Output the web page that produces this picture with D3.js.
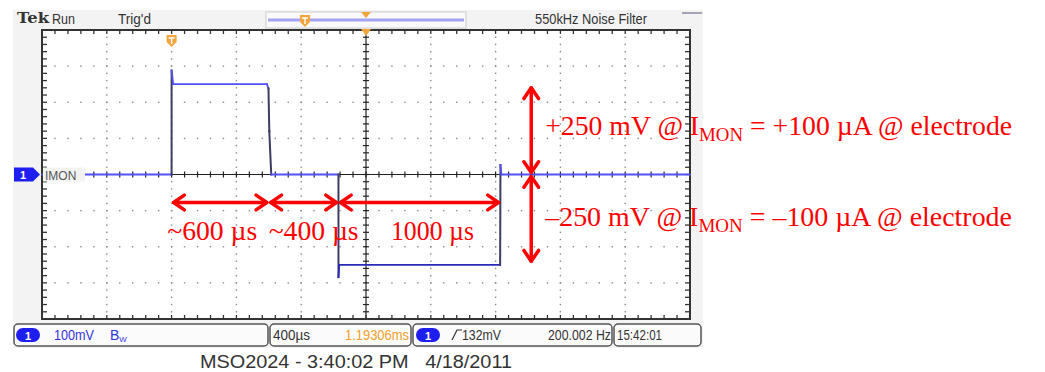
<!DOCTYPE html>
<html>
<head>
<meta charset="utf-8">
<script src="https://cdn.jsdelivr.net/npm/d3@7"></script>
<style>
body { margin: 0; background: #fff; }
svg { display: block; }
</style>
</head>
<body>
<div id="chart"></div>
<script>
// scope: 400 us/div horizontally, 100 mV/div vertically, 10 x 8 divisions
const timeRange = [-2000, 2000];
const mvRange = [-400, 400];

// IMON trace (time in us from screen centre, level in mV)
const traceUs = [-2000, -1200, -1200, -1190, -612, -602, -597, -585, -170, -170, -165, 828, 830, 836, 2000];
const traceMv = [0, 0, 288, 250, 250, 238, 120, 0, 0, -284, -250, -250, 26, 0, 0];

// red annotations
const spanStart = [-1200, -600, -170];
const spanEnd = [-600, -170, 830];
const spanLabel = ["~600 µs", "~400 µs", "1000 µs"];
const levelMv = [250, -250];
const levelHead = ["+250 mV @ I", "\u2013250 mV @ I"];
const levelSub = ["MON", "MON"];
const levelTail = [" = +100 µA @ electrode", " = \u2013100 µA @ electrode"];
const levelArrowUs = 1020;

// screen texts
const topTexts = ["Run", "Trig'd", "550kHz  Noise Filter"];
const chLabel = "IMON";
const statusTexts = ["100mV", "400µs", "1.19306ms", "132mV", "200.002 Hz", "15:42:01"];
const caption = "MSO2024 - 3:40:02 PM   4/18/2011";

const width = 1045, height = 372;

const svg = d3.select("#chart").append("svg")
	.attr("width", width)
	.attr("height", height);

const x = d3.scaleLinear().domain(timeRange).range([42, 690]);
const y = d3.scaleLinear().domain(mvRange).range([319, 30]);

const majorT = d3.range(timeRange[0], timeRange[1] + 1, 400);
const minorT = d3.range(timeRange[0], timeRange[1] + 1, 80);
const majorV = d3.range(mvRange[0], mvRange[1] + 1, 100);
const minorV = d3.range(mvRange[0], mvRange[1] + 1, 20);

const sans = "'Liberation Sans Narrow', 'Liberation Sans', Arial, sans-serif";
const serif = "'Liberation Serif', 'Times New Roman', serif";

// scope panel background
svg.append("rect")
	.attr("x", 13).attr("y", 10)
	.attr("width", 690).attr("height", 338)
	.attr("fill", "#f3f3f3");

// graticule
svg.append("rect")
	.attr("x", x(timeRange[0])).attr("y", y(mvRange[1]))
	.attr("width", x(timeRange[1]) - x(timeRange[0]))
	.attr("height", y(mvRange[0]) - y(mvRange[1]))
	.attr("fill", "#fff");

const grid = svg.append("g").attr("fill", "#8a8a8a");
majorT.filter(t => t != 0 && t != timeRange[0] && t != timeRange[1]).forEach(t => {
	grid.selectAll(null)
		.data(minorV)
		.join("rect")
			.attr("x", x(t) - 0.7).attr("y", d => y(d) - 0.7)
			.attr("width", 1.4).attr("height", 1.4);
});
majorV.filter(v => v != 0 && v != mvRange[0] && v != mvRange[1]).forEach(v => {
	grid.selectAll(null)
		.data(minorT)
		.join("rect")
			.attr("x", d => x(d) - 0.7).attr("y", y(v) - 0.7)
			.attr("width", 1.4).attr("height", 1.4);
});

// centre axes with minor ticks
const axes = svg.append("g").attr("stroke", "#222").attr("stroke-width", 1.2);
axes.append("line")
	.attr("x1", x(0)).attr("x2", x(0))
	.attr("y1", y(mvRange[1])).attr("y2", y(mvRange[0]));
axes.append("line")
	.attr("x1", x(timeRange[0])).attr("x2", x(timeRange[1]))
	.attr("y1", y(0)).attr("y2", y(0));
axes.selectAll(".vt")
	.data(minorV)
	.join("line")
		.attr("x1", x(0) - 3).attr("x2", x(0) + 3)
		.attr("y1", d => y(d)).attr("y2", d => y(d));
axes.selectAll(".ht")
	.data(minorT)
	.join("line")
		.attr("x1", d => x(d)).attr("x2", d => x(d))
		.attr("y1", y(0) - 3).attr("y2", y(0) + 3);

// border ticks
const border = svg.append("g").attr("stroke", "#333").attr("stroke-width", 1.3);
minorT.forEach(t => {
	border.append("line").attr("x1", x(t)).attr("x2", x(t)).attr("y1", y(mvRange[1])).attr("y2", y(mvRange[1]) + 4);
	border.append("line").attr("x1", x(t)).attr("x2", x(t)).attr("y1", y(mvRange[0])).attr("y2", y(mvRange[0]) - 4);
});
minorV.forEach(v => {
	border.append("line").attr("x1", x(timeRange[0])).attr("x2", x(timeRange[0]) + 5).attr("y1", y(v)).attr("y2", y(v));
	border.append("line").attr("x1", x(timeRange[1])).attr("x2", x(timeRange[1]) - 5).attr("y1", y(v)).attr("y2", y(v));
});
svg.append("rect")
	.attr("x", x(timeRange[0])).attr("y", y(mvRange[1]))
	.attr("width", x(timeRange[1]) - x(timeRange[0]))
	.attr("height", y(mvRange[0]) - y(mvRange[1]))
	.attr("fill", "none")
	.attr("stroke", "#333")
	.attr("stroke-width", 2);

// trace: flat parts blue, steep edges darker
const trace = d3.zip(traceUs, traceMv);
const segs = d3.pairs(trace);
svg.append("g")
	.attr("fill", "none")
	.attr("stroke-linecap", "square")
	.selectAll("line")
	.data(segs)
	.join("line")
		.attr("x1", d => x(d[0][0])).attr("y1", d => y(d[0][1]))
		.attr("x2", d => x(d[1][0])).attr("y2", d => y(d[1][1]))
		.attr("stroke", d => Math.abs(d[1][1] - d[0][1]) > 60 ? "#3c3c64" : (d[0][1] < 0 ? "#2a2ab8" : "#5050f4"))
		.attr("stroke-width", d => Math.abs(d[1][1] - d[0][1]) > 60 ? 2 : 1.8);

// channel label box on the left
svg.append("rect")
	.attr("x", 43).attr("y", y(0) - 7)
	.attr("width", 42).attr("height", 14)
	.attr("fill", "#f3f3f3");
svg.append("text")
	.attr("x", 45).attr("y", y(0) + 5)
	.attr("font-family", sans).attr("font-size", 12)
	.attr("fill", "#555")
	.text(chLabel);
svg.append("path")
	.attr("d", `M14,${y(0) - 7}H33L40,${y(0)}L33,${y(0) + 7}H14Z`)
	.attr("fill", "#1e1ef0");
svg.append("text")
	.attr("x", 20).attr("y", y(0) + 4.5)
	.attr("font-family", sans).attr("font-size", 11).attr("font-weight", "bold")
	.attr("fill", "#fff")
	.text("1");

// trigger markers
function marker(cx, cy) {
	svg.append("path")
		.attr("d", `M${cx - 5},${cy - 6}H${cx + 5}V${cy + 1}L${cx},${cy + 6}L${cx - 5},${cy + 1}Z`)
		.attr("fill", "#f4a53c");
	svg.append("path")
		.attr("d", `M${cx - 3},${cy - 3}H${cx + 3}M${cx},${cy - 3}V${cy + 3}`)
		.attr("stroke", "#fff").attr("stroke-width", 1.4);
}
marker(x(-1200), 41);
svg.append("path")
	.attr("d", `M${x(0) - 5},${y(mvRange[1]) - 1}H${x(0) + 5}L${x(0)},${y(mvRange[1]) + 6}Z`)
	.attr("fill", "#f4a53c");

// top status line
svg.append("text")
	.attr("x", 17).attr("y", 23)
	.attr("font-family", "'DejaVu Serif', serif").attr("font-weight", "bold")
	.attr("font-size", 14).attr("fill", "#333")
	.attr("textLength", 32).attr("lengthAdjust", "spacingAndGlyphs")
	.text("Tek");
svg.append("text")
	.attr("x", 52).attr("y", 24)
	.attr("font-family", sans).attr("font-size", 15).attr("fill", "#333")
	.attr("textLength", 23).attr("lengthAdjust", "spacingAndGlyphs")
	.text(topTexts[0]);
svg.append("text")
	.attr("x", 118).attr("y", 24)
	.attr("font-family", sans).attr("font-size", 15).attr("fill", "#333")
	.attr("textLength", 33).attr("lengthAdjust", "spacingAndGlyphs")
	.text(topTexts[1]);
svg.append("text")
	.attr("x", 535).attr("y", 24)
	.attr("font-family", sans).attr("font-size", 15).attr("fill", "#333")
	.attr("textLength", 112).attr("lengthAdjust", "spacingAndGlyphs")
	.text(topTexts[2]);
svg.append("rect")
	.attr("x", 266).attr("y", 12).attr("width", 200).attr("height", 16)
	.attr("fill", "#fafafa").attr("stroke", "#ccc");
svg.append("line")
	.attr("x1", 268).attr("x2", 464).attr("y1", 20).attr("y2", 20)
	.attr("stroke", "#a4a4f4").attr("stroke-width", 3);
marker(305, 21);
svg.append("path")
	.attr("d", `M${x(0) - 5},12H${x(0) + 5}L${x(0)},18Z`)
	.attr("fill", "#f4a53c");
svg.append("line")
	.attr("x1", 682).attr("x2", 702).attr("y1", 13).attr("y2", 13)
	.attr("stroke", "#557").attr("stroke-width", 1);

// bottom status boxes
const boxes = [[14, 268], [270, 411], [413, 612], [614, 701]];
svg.append("g")
	.selectAll("rect")
	.data(boxes)
	.join("rect")
		.attr("x", d => d[0]).attr("y", 324)
		.attr("width", d => d[1] - d[0]).attr("height", 22)
		.attr("rx", 4)
		.attr("fill", "#fbfbfb")
		.attr("stroke", "#555").attr("stroke-width", 1.5);
[16, 416].forEach(px => {
	svg.append("rect")
		.attr("x", px).attr("y", 328).attr("width", 24).attr("height", 14).attr("rx", 7)
		.attr("fill", "#1e1ef0");
	svg.append("text")
		.attr("x", px + 9).attr("y", 339.5)
		.attr("font-family", sans).attr("font-size", 11).attr("font-weight", "bold")
		.attr("fill", "#fff").text("1");
});
const st = svg.append("g").attr("font-family", sans).attr("font-size", 14);
function stText(px, w, color, s) {
	st.append("text").attr("x", px).attr("y", 340).attr("fill", color)
		.attr("textLength", w).attr("lengthAdjust", "spacingAndGlyphs")
		.text(s);
}
stText(54, 40, "#3333dd", statusTexts[0]);
st.append("text").attr("x", 110).attr("y", 340).attr("fill", "#3333dd")
	.call(t => {
		t.append("tspan").text("B");
		t.append("tspan").attr("font-size", 8).attr("dy", 2).text("W");
	});
stText(273, 37, "#333", statusTexts[1]);
stText(345, 64, "#f0a028", statusTexts[2]);
st.append("path")
	.attr("d", "M452,340L457,330H462")
	.attr("fill", "none").attr("stroke", "#333").attr("stroke-width", 1.2);
stText(462, 39, "#333", statusTexts[3]);
stText(548, 63, "#333", statusTexts[4]);
stText(617, 45, "#333", statusTexts[5]);

svg.append("text")
	.attr("x", 200).attr("y", 368)
	.attr("font-family", "'Liberation Sans', Arial, sans-serif")
	.attr("font-size", 18).attr("fill", "#333")
	.attr("textLength", 312).attr("lengthAdjust", "spacingAndGlyphs")
	.style("white-space", "pre")
	.text(caption);

// red annotation arrows
const red = "#ff0000";
function arrow(g, x1, y1, x2, y2) {
	const a = Math.atan2(y2 - y1, x2 - x1);
	const len = 13, spread = 0.6;
	g.append("line").attr("x1", x1).attr("y1", y1).attr("x2", x2).attr("y2", y2);
	[[x1, y1, a + Math.PI], [x2, y2, a]].forEach(([px, py, ang]) => {
		const p1 = [px - len * Math.cos(ang - spread), py - len * Math.sin(ang - spread)];
		const p2 = [px - len * Math.cos(ang + spread), py - len * Math.sin(ang + spread)];
		g.append("path").attr("d", `M${p1}L${px},${py}L${p2}`);
	});
}
const ann = svg.append("g")
	.attr("stroke", red).attr("stroke-width", 3.5)
	.attr("fill", "none").attr("stroke-linecap", "round").attr("stroke-linejoin", "round");
const spanY = y(0) + 28;
spanStart.forEach((s, i) => arrow(ann, x(s) + 2, spanY, x(spanEnd[i]) - 2, spanY));
levelMv.forEach(v => arrow(ann, x(levelArrowUs), y(0) + (v > 0 ? -2 : 2), x(levelArrowUs), y(v * 0.96)));

// span labels sit a little off their arrow centres in the original
const labelNudge = [-8, 10, 13];
svg.append("g")
	.attr("font-family", serif)
	.attr("font-size", 28).attr("fill", red)
	.attr("text-anchor", "middle")
	.selectAll("text")
	.data(spanLabel)
	.join("text")
		.attr("x", (d, i) => (x(spanStart[i]) + x(spanEnd[i])) / 2 + labelNudge[i])
		.attr("y", y(0) + 65)
		.attr("textLength", (d, i) => i == 2 ? 83 : 90)
		.attr("lengthAdjust", "spacingAndGlyphs")
		.text(d => d);

// level notes: size the font so each line spans the same width as the original
levelMv.forEach((v, i) => {
	const t = svg.append("text")
		.attr("x", x(levelArrowUs) + 14)
		.attr("y", y(v / 2) + 6)
		.attr("font-family", serif)
		.attr("font-size", 28).attr("fill", red)
		.style("white-space", "pre");
	t.append("tspan").text(levelHead[i]);
	t.append("tspan").attr("font-size", "0.68em").attr("dy", 6).text(levelSub[i]);
	t.append("tspan").attr("dy", -6).text(levelTail[i]);
	const len = t.node().getComputedTextLength();
	if (len > 0) t.attr("font-size", 28 * 467 / len);
});
</script>
</body>
</html>
